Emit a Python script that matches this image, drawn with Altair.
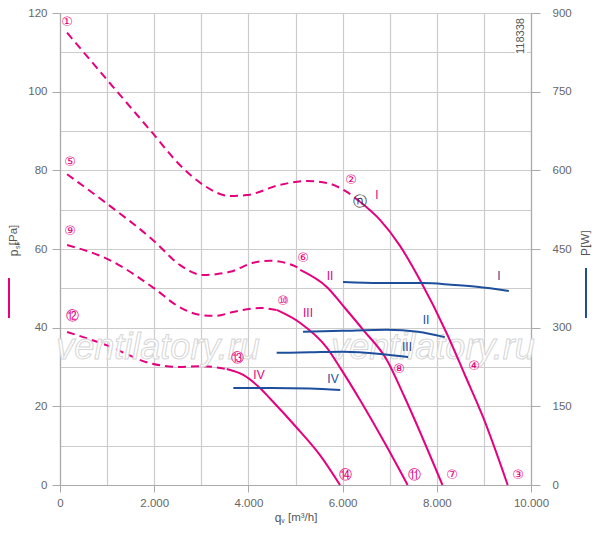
import altair as alt
import pandas as pd

MAG = "#e6007e"
BLUE = "#1d4f9c"
FONT = "Liberation Sans"

# ---- pressure curves (q in m3/h, p in Pa) ----
I_dash_q = [150, 1000, 1950, 2550, 3040, 3600, 3960, 4670, 5240, 5660, 6090, 6370]
I_dash_p = [115, 103, 89.7, 81.3, 76.3, 73.5, 73.7, 76.3, 77.3, 76.8, 74.5, 72]
I_sol_q = [6370, 6794, 7219, 7643, 8217, 8599, 8981, 9505]
I_sol_p = [72, 67.4, 60.8, 52.1, 38.4, 27.9, 17.3, 0]

II_dash_q = [150, 1000, 2000, 2548, 3036, 3610, 4100, 4460, 5030, 5100]
II_dash_p = [79, 71.5, 62, 55.9, 53.4, 54.2, 56.5, 57, 55.4, 54.7]
II_sol_q = [5100, 5670, 6050, 6440, 6940, 7310, 8120]
II_sol_p = [54.7, 50.3, 45, 39.4, 31.8, 22.5, 0]

III_dash_q = [150, 1000, 2000, 2500, 3000, 3300, 3680, 4250, 4600]
III_dash_p = [61, 57.5, 50, 45.5, 43.2, 43, 44, 45, 44.5]
III_sol_q = [4600, 5100, 5660, 5980, 6370, 6940, 7380]
III_sol_p = [44.5, 41.2, 35, 29.2, 21.6, 9.7, 0]

IV_dash_q = [150, 1000, 1900, 2500, 3000, 3540]
IV_dash_p = [38.9, 35.5, 31, 30, 30.2, 29.5]
IV_sol_q = [3540, 3890, 4250, 4459, 5032, 5520, 5945]
IV_sol_p = [29.5, 28, 24.6, 22.0, 14.5, 7.6, 0]

# ---- power curves (W) ----
WI_q = [6010, 6800, 7710, 8300, 8850, 9530]
WI_w = [387, 385, 385, 382, 378, 370]
WII_q = [5160, 6000, 6940, 7600, 8170]
WII_w = [292, 294, 296, 292, 282]
WIII_q = [4600, 5300, 6010, 6800, 7390]
WIII_w = [252, 253, 254, 250, 244]
WIV_q = [3680, 4500, 5300, 5950]
WIV_w = [185, 185, 184, 181]

# ---- annotations ----
circ_text = ["①", "⑤", "⑨", "⑫", "②", "⑥", "⑩", "⑬", "④", "⑧", "⑭", "⑪", "⑦", "③"]
circ_q = [149, 212, 212, 255, 6178, 5159, 4735, 3758, 8790, 7197, 6072, 7516, 8323, 9724]
circ_p = [117.7, 82.1, 64.6, 43, 77.5, 57.7, 46.8, 32.3, 30.3, 29.5, 2.5, 2.5, 2.5, 2.5]

mag_lab = ["I", "II", "III", "IV"]
mag_lab_q = [6730, 5732, 5265, 4225]
mag_lab_p = [73.7, 53.1, 43.7, 28]
blue_lab = ["I", "II", "III", "IV"]
blue_lab_q = [9321, 7771, 7367, 5796]
blue_lab_p = [53.1, 41.9, 35.1, 27]

op_text = ["ⓝ"]
op_q = [6370]
op_p = [72]


def build(curves):
    rows = []
    for name, qs, vs in curves:
        for q, v in zip(qs, vs):
            rows.append({"curve": name, "q": q, "v": v})
    return pd.DataFrame(rows)


dash_df = build([("I", I_dash_q, I_dash_p), ("II", II_dash_q, II_dash_p),
                 ("III", III_dash_q, III_dash_p), ("IV", IV_dash_q, IV_dash_p)])
sol_df = build([("I", I_sol_q, I_sol_p), ("II", II_sol_q, II_sol_p),
                ("III", III_sol_q, III_sol_p), ("IV", IV_sol_q, IV_sol_p)])
pow_df = build([("I", WI_q, WI_w), ("II", WII_q, WII_w),
                ("III", WIII_q, WIII_w), ("IV", WIV_q, WIV_w)])

circ_df = pd.DataFrame({"t": circ_text, "q": circ_q, "v": circ_p})
mag_df = pd.DataFrame({"t": mag_lab, "q": mag_lab_q, "v": mag_lab_p})
blue_df = pd.DataFrame({"t": blue_lab, "q": blue_lab_q, "v": blue_lab_p})
op_df = pd.DataFrame({"t": op_text, "q": op_q, "v": op_p})

xscale = alt.Scale(domain=[0, 10000], nice=False)
pscale = alt.Scale(domain=[0, 120], nice=False)
wscale = alt.Scale(domain=[0, 900], nice=False)

x_axis = alt.Axis(
    values=list(range(0, 10001, 1000)), grid=True, gridColor="#cccccc", gridWidth=1.2,
    labelExpr="datum.value % 2000 === 0 ? replace(format(datum.value, ','), ',', '.') : ''",
    tickSize=7, tickColor="#aaaaaa",
    tickOpacity={"condition": {"test": "datum.value % 2000 === 0", "value": 1}, "value": 0},
    domainColor="#aaaaaa", domainWidth=1.2, labelColor="#666666", labelFontSize=11.5,
    labelFont=FONT, labelPadding=5, labelOverlap=False, labelFlush=False, title=None,
)
p_axis = alt.Axis(
    values=list(range(0, 121, 10)), grid=True, gridColor="#cccccc", gridWidth=1.2,
    labelExpr="datum.value % 20 === 0 ? datum.label : ''",
    tickSize=8, tickColor="#aaaaaa",
    tickOpacity={"condition": {"test": "datum.value % 20 === 0", "value": 1}, "value": 0},
    domainColor="#aaaaaa", domainWidth=1.2, labelColor="#666666", labelFontSize=11.5,
    labelFont=FONT, labelPadding=5, labelOverlap=False, labelFlush=False, title=None,
)
w_axis = alt.Axis(
    orient="right", values=list(range(0, 901, 150)), grid=False,
    tickSize=9, tickColor="#aaaaaa", domainColor="#aaaaaa", domainWidth=1.2,
    labelColor="#666666", labelFontSize=11.5, labelFont=FONT, labelPadding=12,
    labelOverlap=False, labelFlush=False, title=None,
)

X = alt.X("q:Q", scale=xscale, axis=x_axis)
YP = alt.Y("v:Q", scale=pscale, axis=p_axis)
YW = alt.Y("v:Q", scale=wscale, axis=w_axis)

one = alt.Data(values=[{}])


def vtext(txt, x, y, size=11.5, color="#555555", angle=0, align="center", **kw):
    return alt.Chart(one).mark_text(
        text=txt, fontSize=size, color=color, angle=angle, align=align,
        baseline="middle", font=FONT, **kw
    ).encode(x=alt.value(x), y=alt.value(y))


watermark = alt.layer(
    vtext("ventilatory.ru", 98, 335, size=36, color="#ffffff", fontStyle="italic",
          stroke="#d6d6d6", strokeWidth=1),
    vtext("ventilatory.ru", 373, 335, size=36, color="#ffffff", fontStyle="italic",
          stroke="#d6d6d6", strokeWidth=1),
)

dash = alt.Chart(dash_df).mark_line(
    color=MAG, strokeWidth=2, strokeDash=[8, 5], interpolate="monotone"
).encode(x=X, y=YP, detail="curve:N")
solid = alt.Chart(sol_df).mark_line(
    color=MAG, strokeWidth=2, interpolate="monotone"
).encode(x=X, y=YP, detail="curve:N")


def labels(df, color, size, font=FONT):
    return alt.Chart(df).mark_text(color=color, fontSize=size, font=font).encode(
        x=X, y=YP, text="t:N"
    )


circ = labels(circ_df, MAG, 13, font="DejaVu Sans")
maglab = labels(mag_df, MAG, 12)
bluelab = labels(blue_df, BLUE, 12)
oplab = labels(op_df, "#333333", 14, font="DejaVu Sans")

# id number box top right
idbox = alt.Chart(one).mark_rect(color="white").encode(
    x=alt.value(455), x2=alt.value(467), y=alt.value(1), y2=alt.value(46)
)
idtext = vtext("118338", 461, 23, size=11, color="#555555", angle=270)

# axis titles
titles = alt.layer(
    vtext("p", -46, 240, size=12, angle=270),
    vtext("sF", -42, 232, size=7, angle=270),
    vtext("[Pa]", -46, 222, size=11.5, angle=270),
    vtext("P", 526, 239, size=12, angle=270),
    vtext("1", 529, 233, size=7, angle=270),
    vtext("[W]", 526, 226, size=11.5, angle=270),
    vtext("q", 218, 505, size=12),
    vtext("v", 223, 508, size=7),
    vtext("[m³/h]", 228, 505, size=11.5, align="left"),
)
legend_lines = alt.layer(
    alt.Chart(one).mark_rule(color=MAG, strokeWidth=2).encode(
        x=alt.value(-51), y=alt.value(265), y2=alt.value(305)),
    alt.Chart(one).mark_rule(color=BLUE, strokeWidth=2).encode(
        x=alt.value(526), y=alt.value(255), y2=alt.value(305)),
)

pressure = alt.layer(dash, watermark, solid, circ, maglab, bluelab, oplab,
                     idbox, idtext, titles, legend_lines)

power = alt.Chart(pow_df).mark_line(
    color=BLUE, strokeWidth=2, interpolate="monotone"
).encode(x=X, y=YW, detail="curve:N")

chart = alt.layer(pressure, power).resolve_scale(y="independent").properties(
    width=471, height=472,
    padding={"left": 52, "top": 5, "right": 61, "bottom": 42},
    autosize="none",
).configure_view(stroke=None).configure(background="white")

chart.save("out.html", embed_options={"renderer": "svg", "actions": False})
